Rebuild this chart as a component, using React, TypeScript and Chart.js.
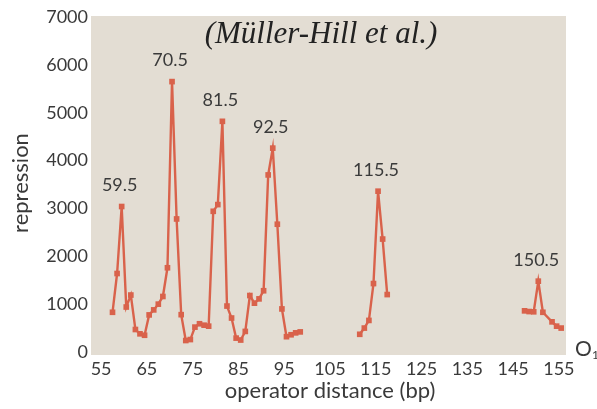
import React, { useEffect, useRef } from "react";
import { Chart, registerables } from "chart.js";

Chart.register(...registerables);

// operator distance (bp); null repression values break the line
const distances = [
  57.5, 58.5, 59.5, 60.5, 61.5, 62.5, 63.5, 64.5, 65.5, 66.5, 67.5, 68.5, 69.5, 70.5,
  71.5, 72.5, 73.5, 74.5, 75.5, 76.5, 77.5, 78.5, 79.5, 80.5, 81.5, 82.5, 83.5, 84.5,
  85.5, 86.5, 87.5, 88.5, 89.5, 90.5, 91.5, 92.5, 93.5, 94.5, 95.5, 96.5, 97.5, 98.5,
  105,
  111.5, 112.5, 113.5, 114.5, 115.5, 116.5, 117.5,
  130,
  147.5, 148.5, 149.5, 150.5, 151.5, 153.5, 154.5, 155.5,
];
const repression = [
  830, 1640, 3040, 940, 1190, 470, 380, 350, 775, 880, 1000, 1160, 1760, 5650,
  2780, 780, 240, 260, 520, 590, 560, 540, 2940, 3080, 4820, 960, 710, 290,
  250, 430, 1180, 1020, 1110, 1280, 3700, 4260, 2670, 900, 320, 360, 400, 420,
  null,
  370, 500, 660, 1430, 3360, 2360, 1200,
  null,
  860, 845, 840, 1480, 830, 630, 540, 500,
];
const peakDistances = [59.5, 70.5, 81.5, 92.5, 115.5, 150.5];
const peakLabels = ["59.5", "70.5", "81.5", "92.5", "115.5", "150.5"];
const xTicks = [55, 65, 75, 85, 95, 105, 115, 125, 135, 145, 155];
const yTicks = [0, 1000, 2000, 3000, 4000, 5000, 6000, 7000];

const TITLE = "(Müller-Hill et al.)";
const X_TITLE = "operator distance (bp)";
const Y_TITLE = "repression";

const SANS = "Lato, 'Open Sans', sans-serif";
const TEXT = "#3a3a3a";
const RED = "#d9624b";
const BG = "#e3ddd3";

export default function App() {
  const ref = useRef<HTMLCanvasElement | null>(null);

  useEffect(() => {
    document.body.style.margin = "0";
    const canvas = ref.current;
    if (!canvas) return;

    const bgPlugin = {
      id: "bgPlugin",
      beforeDraw(chart: any) {
        const { ctx, chartArea } = chart;
        ctx.save();
        ctx.fillStyle = "#ffffff";
        ctx.fillRect(0, 0, chart.width, chart.height);
        ctx.fillStyle = BG;
        ctx.fillRect(chartArea.left, chartArea.top - 1, chartArea.right - chartArea.left, chartArea.bottom - chartArea.top + 4);
        ctx.restore();
      },
      afterDraw(chart: any) {
        const { ctx, chartArea, scales } = chart;
        ctx.save();
        // title
        ctx.fillStyle = "#222";
        ctx.font = "italic 31px 'Liberation Serif', serif";
        ctx.textAlign = "center";
        ctx.textBaseline = "middle";
        ctx.fillText(TITLE, 321, chartArea.top + 18);
        // peak labels
        ctx.fillStyle = TEXT;
        ctx.font = "18px " + SANS;
        peakDistances.forEach((d, i) => {
          const idx = distances.indexOf(d);
          const v = repression[idx] as number;
          const px = scales.x.getPixelForValue(d);
          const py = scales.y.getPixelForValue(v);
          ctx.fillText(peakLabels[i], px - 2, py - 21);
        });
        // axis titles
        ctx.font = "22px " + SANS;
        ctx.fillText(X_TITLE, 330, 391);
        ctx.save();
        ctx.translate(21, 183);
        ctx.rotate(-Math.PI / 2);
        ctx.fillText(Y_TITLE, 0, 0);
        ctx.restore();
        // O1 marker
        ctx.textAlign = "left";
        ctx.font = "21px " + SANS;
        ctx.fillText("O", 575, chartArea.bottom - 3);
        ctx.font = "12px " + SANS;
        ctx.fillText("1", 592, chartArea.bottom + 3);
        ctx.restore();
      },
    };

    const chart = new Chart(canvas, {
      type: "line",
      data: {
        labels: distances,
        datasets: [
          {
            data: distances.map((d, i) => ({ x: d, y: repression[i] })) as any,
            borderColor: RED,
            backgroundColor: RED,
            borderWidth: 2.4,
            pointStyle: "rect",
            pointRadius: 4,
            pointBorderWidth: 0,
            spanGaps: false,
          },
        ],
      },
      options: {
        responsive: false,
        animation: false,
        layout: { padding: { left: 0, right: 31, top: 17, bottom: 0 } },
        plugins: { legend: { display: false }, tooltip: { enabled: false } },
        scales: {
          x: {
            type: "linear",
            min: 52.8,
            max: 156.55,
            grid: { display: false, drawTicks: false },
            border: { display: false },
            afterBuildTicks: (scale: any) => {
              scale.ticks = xTicks.map((v) => ({ value: v }));
            },
            afterFit: (scale: any) => {
              scale.height = 57;
            },
            ticks: {
              color: TEXT,
              font: { family: SANS, size: 18 },
              padding: 6,
              maxRotation: 0,
              autoSkip: false,
              callback: (v: any) => String(v),
            },
          },
          y: {
            min: 0,
            max: 7000,
            grid: { display: false, drawTicks: false },
            border: { display: false },
            afterBuildTicks: (scale: any) => {
              scale.ticks = yTicks.map((v) => ({ value: v }));
            },
            afterFit: (scale: any) => {
              scale.width = 91;
            },
            ticks: {
              color: TEXT,
              font: { family: SANS, size: 18 },
              padding: 3,
              callback: (v: any) => String(v),
            },
          },
        },
      },
      plugins: [bgPlugin],
    });

    return () => chart.destroy();
  }, []);

  return <canvas ref={ref} width={597} height={409} style={{ display: "block" }} />;
}
